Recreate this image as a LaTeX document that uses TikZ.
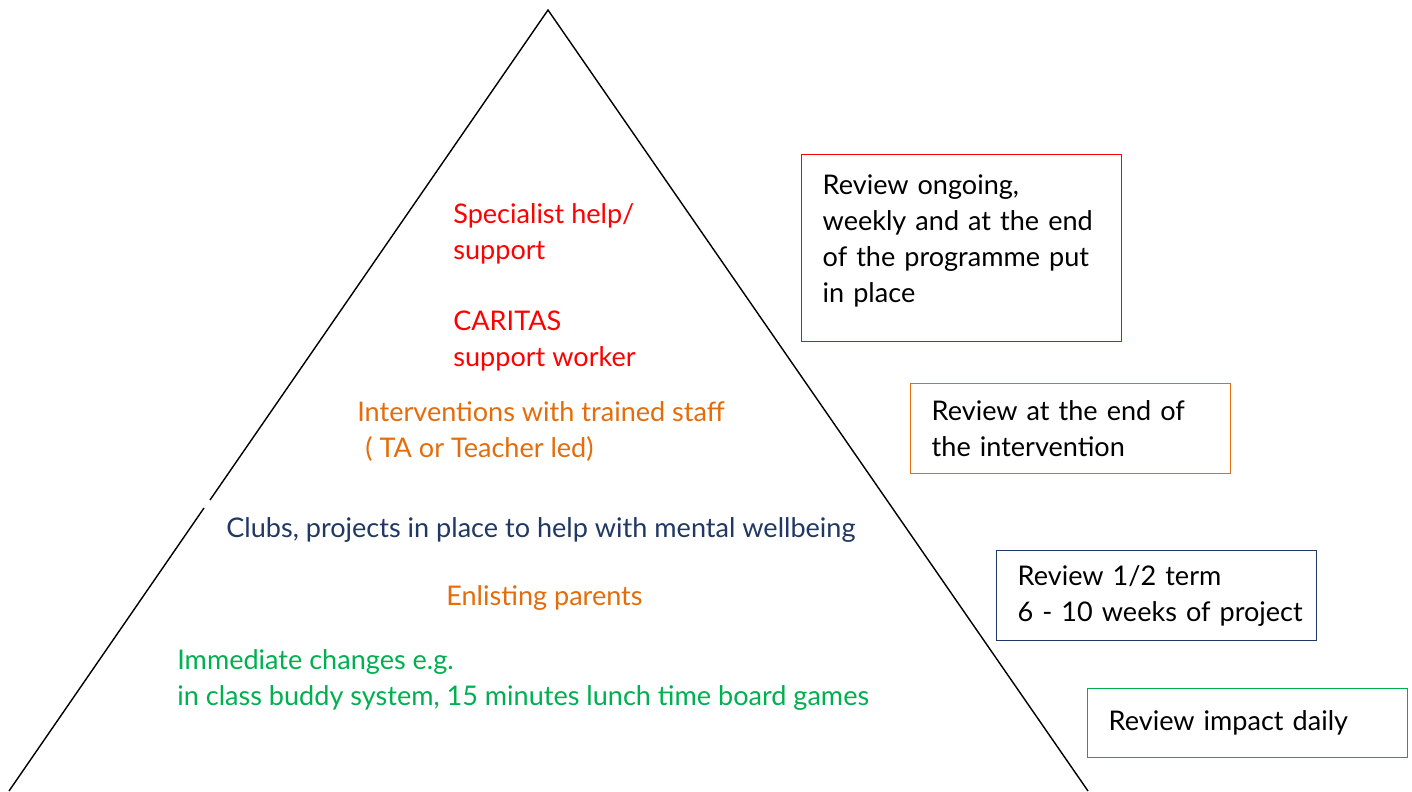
\documentclass[tikz,border=0pt]{standalone}
\usepackage{fontspec}
\setmainfont{Lato}
\usetikzlibrary{positioning}

\definecolor{levelred}{HTML}{FF0000}
\definecolor{levelorange}{HTML}{E46C0A}
\definecolor{levelnavy}{HTML}{1F3864}
\definecolor{levelgreen}{HTML}{00B050}

\begin{document}
\begin{tikzpicture}
  [x=0.02cm, y=-0.02cm,
  label/.style={anchor=west, inner sep=0pt, align=left,
    font=\fontsize{15.4}{20.5}\selectfont},
  review/.style={draw, thick, anchor=north west, align=left,
    text width=5.56cm, minimum width=6.4cm,
    inner xsep=0.42cm, inner ysep=0pt, text=black,
    font=\fontsize{15.4}{20.5}\selectfont}]

  \useasboundingbox (0,0) rectangle (1412,791);

  % pyramid outline, with the small break on the left side
  \coordinate (apex)   at (548,10);
  \coordinate (gapup)  at (210,500);
  \coordinate (gapdn)  at (204,508);
  \coordinate (baseL)  at (9,791);
  \coordinate (baseR)  at (1088,791);
  \draw [thick] (gapup) -- (apex) -- (baseR);
  \draw [thick] (gapdn) -- (baseL);

  % levels of support
  \node[label, text=levelred] (specialist) at (453,234) {Specialist help/\\support};
  \node[label, text=levelred] (caritas) at (453,341) {CARITAS\\support worker};
  \node[label, text=levelorange] (interventions) at (357,432)
    {Interventions with trained staff\\\hspace*{0.3em}( TA or Teacher led)};
  \node[label, text=levelnavy] (clubs) at (226,530)
    {Clubs, projects in place to help with mental wellbeing};
  \node[label, text=levelorange] (parents) at (446,598) {Enlisting parents};
  \node[label, text=levelgreen] (immediate) at (177,680)
    {Immediate changes e.g.\\in class buddy system, 15 minutes lunch time board games};

  % review boxes
  \node[review, draw=levelred, minimum height=3.74cm]
    (reviewspec) at (801,154)
    {Review ongoing,\\weekly and at the end\\of the programme put\\in place\rule[-0.4cm]{0pt}{0pt}};
  \node[review, draw=levelorange, minimum height=1.8cm]
    (reviewint) at (910,383) {Review at the end of\\the intervention};
  \node[review, draw=levelnavy, minimum height=1.8cm]
    (reviewclub) at (996,550) {Review 1/2 term\\\mbox{6 - 10 weeks of project}};
  \node[review, draw=levelgreen, minimum height=1.38cm]
    (reviewdaily) at (1087,688) {Review impact daily};

\end{tikzpicture}
\end{document}
